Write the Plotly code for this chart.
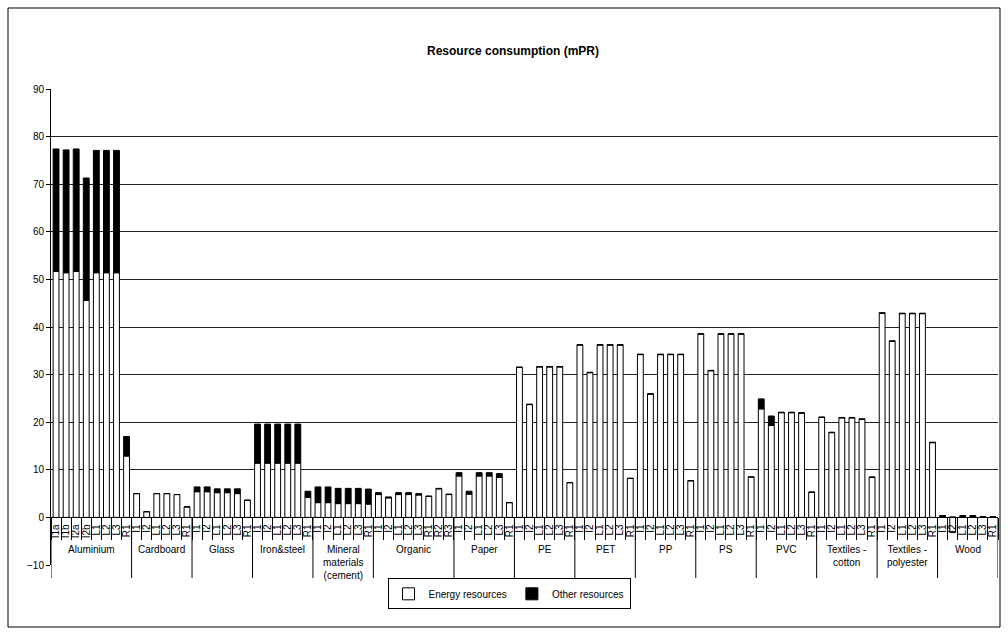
import plotly.graph_objects as go

groups = ["Aluminium", "Cardboard", "Glass", "Iron&steel", "Mineral<br>materials<br>(cement)",
          "Organic", "Paper", "PE", "PET", "PP", "PS", "PVC",
          "Textiles -<br>cotton", "Textiles -<br>polyester", "Wood"]
sublabels = {
    "Aluminium": ["I1a", "I1b", "I2a", "I2b", "L1", "L2", "L3", "R1"],
    "Organic": ["I1", "I2", "L1", "L2", "L3", "R1", "R2", "R3"],
}
default_labels = ["I1", "I2", "L1", "L2", "L3", "R1"]

energy = {
    "Aluminium": [51.7, 51.4, 51.7, 45.6, 51.4, 51.4, 51.4, 12.9],
    "Cardboard": [5.0, 1.2, 5.0, 5.0, 4.8, 2.2],
    "Glass": [5.4, 5.4, 5.2, 5.2, 5.0, 3.6],
    "Iron&steel": [11.4, 11.4, 11.4, 11.4, 11.4, 4.2],
    "Mineral<br>materials<br>(cement)": [3.1, 3.1, 2.9, 2.9, 2.9, 2.8],
    "Organic": [4.8, 4.1, 4.8, 4.8, 4.7, 4.4, 6.0, 4.8],
    "Paper": [8.7, 4.9, 8.7, 8.7, 8.4, 3.1],
    "PE": [31.5, 23.7, 31.6, 31.6, 31.6, 7.3],
    "PET": [36.2, 30.4, 36.2, 36.2, 36.2, 8.2],
    "PP": [34.2, 25.9, 34.2, 34.2, 34.2, 7.7],
    "PS": [38.5, 30.8, 38.5, 38.5, 38.5, 8.5],
    "PVC": [22.8, 19.3, 22.0, 22.0, 21.9, 5.3],
    "Textiles -<br>cotton": [21.0, 17.8, 20.9, 20.9, 20.6, 8.4],
    "Textiles -<br>polyester": [42.9, 37.0, 42.8, 42.8, 42.8, 15.7],
    "Wood": [0.1, -3.2, 0.1, 0.1, 0.05, 0.05],
}
other = {
    "Aluminium": [25.7, 25.8, 25.7, 25.7, 25.7, 25.7, 25.7, 4.1],
    "Cardboard": [0.0, 0.0, 0.0, 0.0, 0.0, 0.0],
    "Glass": [1.0, 1.0, 0.8, 0.8, 1.0, 0.0],
    "Iron&steel": [8.2, 8.2, 8.2, 8.2, 8.2, 1.3],
    "Mineral<br>materials<br>(cement)": [3.3, 3.3, 3.2, 3.2, 3.2, 3.15],
    "Organic": [0.4, 0.2, 0.4, 0.4, 0.3, 0.1, 0.1, 0.1],
    "Paper": [0.7, 0.6, 0.7, 0.7, 0.8, 0.0],
    "PE": [0.1, 0.1, 0.1, 0.1, 0.1, 0.0],
    "PET": [0.1, 0.1, 0.1, 0.1, 0.1, 0.0],
    "PP": [0.1, 0.1, 0.1, 0.1, 0.1, 0.0],
    "PS": [0.1, 0.1, 0.1, 0.1, 0.1, 0.0],
    "PVC": [2.1, 2.0, 0.1, 0.1, 0.1, 0.0],
    "Textiles -<br>cotton": [0.1, 0.1, 0.1, 0.1, 0.1, 0.1],
    "Textiles -<br>polyester": [0.1, 0.1, 0.1, 0.1, 0.1, 0.1],
    "Wood": [0.3, 0.1, 0.3, 0.3, 0.1, 0.1],
}

# flatten into category positions (index on a linear category axis)
x_pos, x_label, e_vals, o_vals = [], [], [], []
group_spans = []
idx = 0
for g in groups:
    labs = sublabels.get(g, default_labels)
    start = idx
    for i, lab in enumerate(labs):
        x_pos.append(idx)
        x_label.append(lab)
        e_vals.append(energy[g][i])
        o_vals.append(other[g][i])
        idx += 1
    group_spans.append((g, start, idx - 1))

FONT = "Arial, Liberation Sans, sans-serif"

fig = go.Figure()
fig.add_trace(go.Bar(x=x_pos, y=e_vals, name="Energy resources",
                     marker=dict(color="white", line=dict(color="black", width=1))))
fig.add_trace(go.Bar(x=x_pos, y=o_vals, name="Other resources",
                     marker=dict(color="black", line=dict(color="black", width=1))))

W, H = 1008, 635
L, R, T, B = 51, 10, 89, 70
pw, ph = W - L - R, H - T - B
YMIN, YMAX = -10, 90
zero_frac = (0 - YMIN) / (YMAX - YMIN)

fig.update_layout(
    width=W, height=H,
    barmode="relative", bargap=0.42,
    margin=dict(l=L, r=R, t=T, b=B, pad=0),
    paper_bgcolor="white", plot_bgcolor="white",
    font=dict(family=FONT, size=10, color="black"),
    title=dict(text="<b>Resource consumption (mPR)</b>", x=513 / W, xanchor="center",
               y=1 - 51 / H, yanchor="middle", font=dict(size=12, family=FONT)),
    showlegend=True,
    legend=dict(orientation="h", x=(509 - L) / pw, xanchor="center", y=-0.028, yanchor="top",
                bordercolor="black", borderwidth=1, font=dict(size=10, family=FONT),
                itemwidth=30, traceorder="normal"),
    xaxis=dict(range=[-0.5, len(x_pos) - 0.5], anchor="free", position=zero_frac,
               tickmode="array", tickvals=x_pos, ticktext=x_label,
               tickangle=-90, tickfont=dict(size=10), ticks="",
               ticklabelstandoff=2,
               minor=dict(tickmode="linear", tick0=-0.5, dtick=1, ticks="outside",
                          ticklen=22, tickcolor="black", tickwidth=1, showgrid=False),
               showline=True, linecolor="black", linewidth=1,
               showgrid=False, zeroline=False),
    yaxis=dict(range=[YMIN, YMAX], dtick=10, tick0=0,
               showgrid=True, gridcolor="#222", gridwidth=1,
               zeroline=True, zerolinecolor="black", zerolinewidth=1,
               showline=True, linecolor="black", linewidth=1,
               ticks="outside", ticklen=4, tickcolor="black",
               tickfont=dict(size=10)),
)

# group labels and dividers of the category axis
div_bottom = -(578 - (T + ph)) / ph
for g, s, e in group_spans:
    fig.add_annotation(x=(s + e) / 2, y=(T + ph - 542) / ph, xref="x", yref="paper",
                       text=g, showarrow=False, yanchor="top", xanchor="center",
                       font=dict(size=10, family=FONT), align="center")
bounds = [s - 0.5 for _, s, _ in group_spans] + [group_spans[-1][2] + 0.5]
for b in bounds:
    fig.add_shape(type="line", xref="x", yref="paper", x0=b, x1=b,
                  y0=zero_frac, y1=div_bottom, line=dict(color="black", width=1))

# outer chart frame
fig.add_shape(type="rect", xref="paper", yref="paper",
              x0=(8 - L) / pw, x1=(1000 - L) / pw,
              y0=-(627 - (T + ph)) / ph, y1=(T + ph - 8) / ph,
              line=dict(color="black", width=1), fillcolor="rgba(0,0,0,0)", layer="below")

fig.write_html("out.html", config={"displayModeBar": False},
               post_script="document.body.style.margin='0';")
